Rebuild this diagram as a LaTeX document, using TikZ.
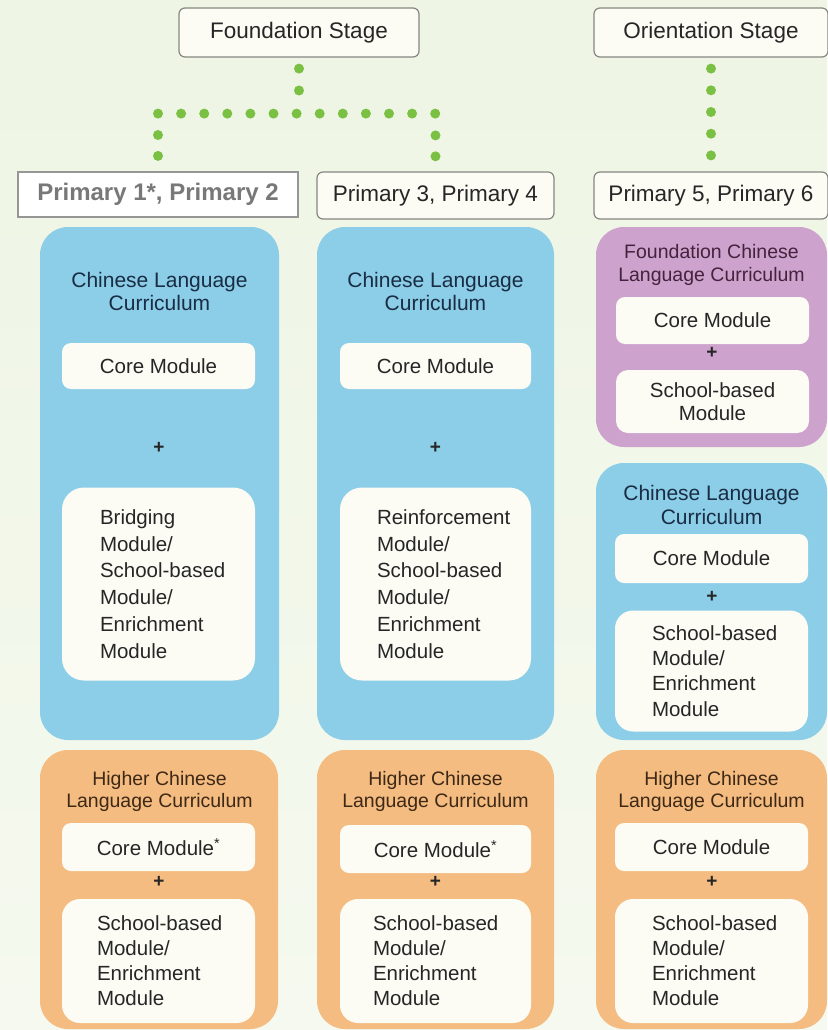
\documentclass[tikz,border=0pt]{standalone}
\usepackage{fontspec}
\setmainfont{Liberation Sans}
\usetikzlibrary{positioning}

\definecolor{bgtop}{RGB}{238,245,228}
\definecolor{bgcol}{RGB}{245,249,239}
\definecolor{stageline}{RGB}{135,135,130}
\definecolor{boxwhite}{RGB}{252,252,245}
\definecolor{textdark}{RGB}{38,38,38}
\definecolor{p12line}{RGB}{150,150,150}
\definecolor{p12text}{RGB}{120,120,120}
\definecolor{dotgreen}{RGB}{122,192,66}
\definecolor{clblue}{RGB}{140,205,232}
\definecolor{fclpurple}{RGB}{205,162,205}
\definecolor{hclorange}{RGB}{244,188,128}
\definecolor{bluetitle}{RGB}{25,45,68}
\definecolor{purpletitle}{RGB}{68,35,62}
\definecolor{orangetitle}{RGB}{62,40,22}

\begin{document}
\begin{tikzpicture}[x=1pt, y=-1pt,
    stage/.style={draw=stageline, line width=1.2pt, rounded corners=6pt, fill=boxwhite, text=textdark, inner sep=0pt, font=\fontsize{22.5}{26}\selectfont},
    bigbox/.style={rounded corners=28pt, inner sep=0pt},
    curtitle/.style={align=center, inner sep=0pt, text=bluetitle, font=\fontsize{21}{23}\selectfont},
    corebox/.style={fill=boxwhite, rounded corners=9pt, minimum width=193pt, minimum height=47pt, inner sep=0pt, text=textdark, font=\fontsize{20.5}{24}\selectfont},
    modbox/.style={fill=boxwhite, rounded corners=22pt, minimum width=193pt, inner sep=0pt},
    modtext/.style={align=left, inner sep=0pt, text=textdark, font=\fontsize{20.5}{26.7}\selectfont},
    plus/.style={inner sep=0pt, text=textdark, font=\bfseries\fontsize{19}{19}\selectfont},
    dotline/.style={draw=dotgreen, line width=10pt, line cap=round}]

    % background
    \useasboundingbox (0,0) rectangle (827,1030);
    \shade[top color=bgtop, bottom color=bgcol] (0,0) rectangle (827,1030);

    % stages and levels
    \node[stage, minimum width=240pt, minimum height=49pt] (fs) at (299,32.5) {Foundation Stage};
    \node[stage, minimum width=234pt, minimum height=49pt] (os) at (711,32.5) {Orientation Stage};
    \node[draw=p12line, line width=2pt, fill=white, minimum width=280pt, minimum height=45pt, inner sep=0pt, text=p12text, font=\bfseries\fontsize{24}{28}\selectfont] (p12) at (158,194.5) {Primary 1*, Primary 2};
    \node[stage, minimum width=237pt, minimum height=47pt] (p34) at (435.5,195.5) {Primary 3, Primary 4};
    \node[stage, minimum width=234pt, minimum height=47pt] (p56) at (711,195.5) {Primary 5, Primary 6};

    % dotted links
    \coordinate (split) at ([yshift=-56pt]fs.south);
    \draw[dotline, dash pattern=on 0pt off 21.9pt] ([yshift=-11pt]fs.south) -- ([yshift=-33pt]fs.south);
    \draw[dotline, dash pattern=on 0pt off 23.1pt] (split -| p12) -- (split -| p34);
    \draw[dotline, dash pattern=on 0pt off 20.9pt] ([yshift=36pt]p12.north) -- ([yshift=15pt]p12.north);
    \draw[dotline, dash pattern=on 0pt off 20.9pt] ([yshift=36pt]p34.north) -- ([yshift=15pt]p34.north);
    \draw[dotline, dash pattern=on 0pt off 21.7pt] ([yshift=-11pt]os.south) -- ([yshift=-98pt]os.south);

    % curriculum panels
    \node[bigbox, fill=clblue, minimum width=239pt, minimum height=513pt] (cl1) at (159.5,483.5) {};
    \node[bigbox, fill=clblue, minimum width=237pt, minimum height=513pt] (cl2) at (435.5,483.5) {};
    \node[bigbox, fill=fclpurple, minimum width=231pt, minimum height=220pt] (fcl3) at (711.5,337) {};
    \node[bigbox, fill=clblue, minimum width=231pt, minimum height=277pt] (cl3) at (711.5,601.5) {};
    \node[bigbox, fill=hclorange, minimum width=238pt, minimum height=279pt] (hcl1) at (159,889.5) {};
    \node[bigbox, fill=hclorange, minimum width=237pt, minimum height=279pt] (hcl2) at (435.5,889.5) {};
    \node[bigbox, fill=hclorange, minimum width=231pt, minimum height=279pt] (hcl3) at (711.5,889.5) {};

    % P1-P2 Chinese Language
    \node[curtitle] (cl1t) at (159.5,291) {Chinese Language\\Curriculum};
    \node[corebox, minimum height=46pt] (cl1c) at (158.5,366) {Core Module};
    \node[plus] (cl1p) at (159,448) {+};
    \node[modbox, minimum height=193pt] (cl1m) at (158.5,584) {};
    \node[modtext, right=38pt of cl1m.west] (cl1mt) {Bridging\\Module/\\School-based\\Module/\\Enrichment\\Module};

    % P3-P4 Chinese Language
    \node[curtitle] (cl2t) at (435.5,291) {Chinese Language\\Curriculum};
    \node[corebox, minimum width=191pt, minimum height=46pt] (cl2c) at (435.5,366) {Core Module};
    \node[plus] (cl2p) at (435.5,448) {+};
    \node[modbox, minimum width=191pt, minimum height=193pt] (cl2m) at (435.5,584) {};
    \node[modtext, right=37pt of cl2m.west] (cl2mt) {Reinforcement\\Module/\\School-based\\Module/\\Enrichment\\Module};

    % P5-P6 Foundation Chinese Language
    \node[curtitle, text=purpletitle, font=\fontsize{19.5}{23}\selectfont] (fcl3t) at (711.5,265) {Foundation Chinese\\Language Curriculum};
    \node[corebox] (fcl3c) at (712.5,320.5) {Core Module};
    \node[plus] (fcl3p) at (712,353) {+};
    \node[modbox, rounded corners=12pt, minimum height=63pt, align=center, text=textdark, font=\fontsize{20.5}{23}\selectfont] (fcl3m) at (712.5,401.5) {School-based\\Module};

    % P5-P6 Chinese Language
    \node[curtitle, font=\fontsize{21}{24}\selectfont] (cl3t) at (711.5,505) {Chinese Language\\Curriculum};
    \node[corebox, minimum height=49pt] (cl3c) at (711.5,558.5) {Core Module};
    \node[plus] (cl3p) at (712,597) {+};
    \node[modbox, rounded corners=18pt, minimum height=121pt] (cl3m) at (711.5,671) {};
    \node[modtext, font=\fontsize{20.5}{25.3}\selectfont, right=37pt of cl3m.west] (cl3mt) {School-based\\Module/\\Enrichment\\Module};

    % Higher Chinese Language
    \node[curtitle, text=orangetitle, font=\fontsize{19.5}{22}\selectfont] (hcl1t) at (159.5,791) {Higher Chinese\\Language Curriculum};
    \node[corebox, minimum height=48pt] (hcl1c) at (158.5,847) {Core Module\textsuperscript{*}};
    \node[plus] (hcl1p) at (159,882) {+};
    \node[modbox, rounded corners=18pt, minimum height=124pt] (hcl1m) at (158.5,961) {};
    \node[modtext, font=\fontsize{20.5}{25}\selectfont, right=35pt of hcl1m.west] (hcl1mt) {School-based\\Module/\\Enrichment\\Module};

    \node[curtitle, text=orangetitle, font=\fontsize{19.5}{22}\selectfont] (hcl2t) at (435.5,791) {Higher Chinese\\Language Curriculum};
    \node[corebox, minimum width=191pt, minimum height=48pt] (hcl2c) at (435.5,849) {Core Module\textsuperscript{*}};
    \node[plus] (hcl2p) at (435.5,882) {+};
    \node[modbox, minimum width=191pt, rounded corners=18pt, minimum height=124pt] (hcl2m) at (435.5,961) {};
    \node[modtext, font=\fontsize{20.5}{25}\selectfont, right=33pt of hcl2m.west] (hcl2mt) {School-based\\Module/\\Enrichment\\Module};

    \node[curtitle, text=orangetitle, font=\fontsize{19.5}{22}\selectfont] (hcl3t) at (711.5,791) {Higher Chinese\\Language Curriculum};
    \node[corebox, minimum height=48pt] (hcl3c) at (711.5,847) {Core Module};
    \node[plus] (hcl3p) at (712,882) {+};
    \node[modbox, rounded corners=18pt, minimum height=124pt] (hcl3m) at (711.5,961) {};
    \node[modtext, font=\fontsize{20.5}{25}\selectfont, right=37pt of hcl3m.west] (hcl3mt) {School-based\\Module/\\Enrichment\\Module};

\end{tikzpicture}
\end{document}
